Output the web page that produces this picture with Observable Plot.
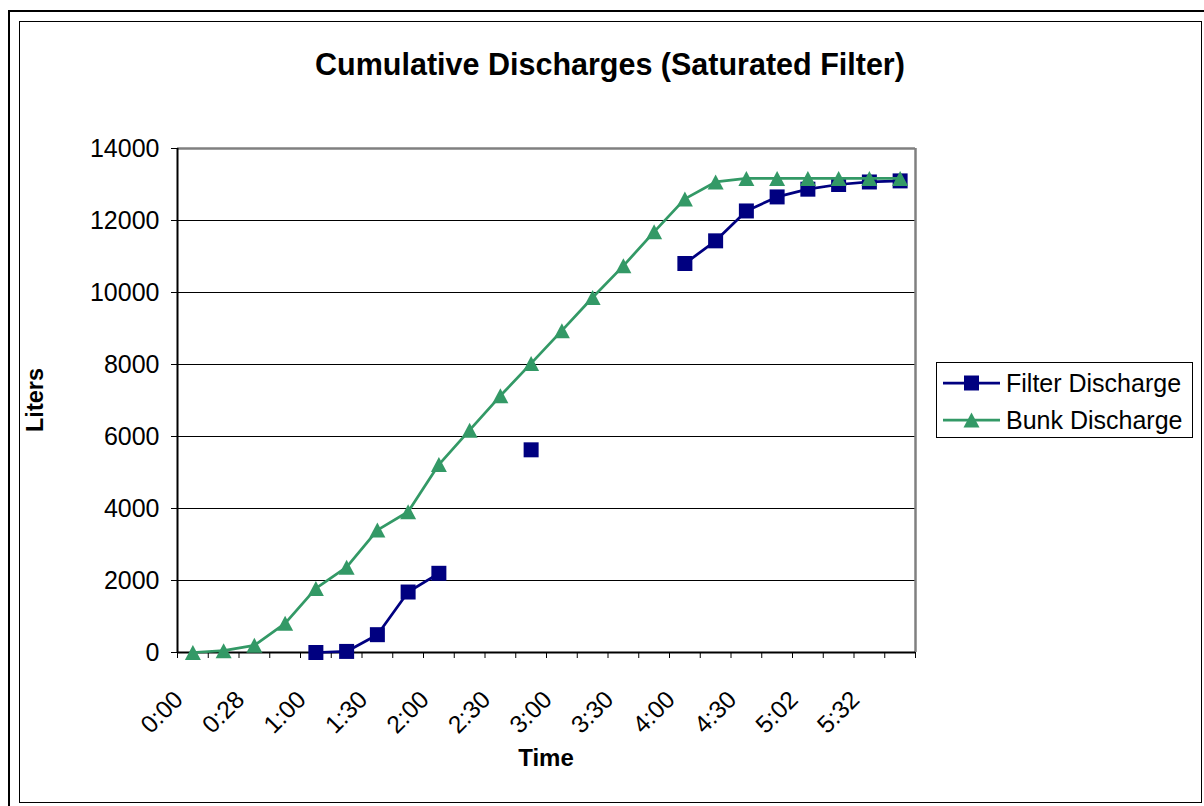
<!DOCTYPE html>
<html>
<head>
<meta charset="utf-8">
<script src="https://cdn.jsdelivr.net/npm/d3@7"></script>
<script src="https://cdn.jsdelivr.net/npm/@observablehq/plot@0.6"></script>
<style>
  html, body { margin: 0; padding: 0; background: #fff; width: 1204px; height: 806px; overflow: hidden;
    font-family: Arial, "Liberation Sans", sans-serif; color: #000; }
  #outer { position: absolute; left: 8px; top: 10px; width: 1220px; height: 820px; border: 2.5px solid #000; box-sizing: border-box; }
  #inner { position: absolute; left: 19px; top: 21px; width: 1183px; height: 782px; border: 1.5px solid #000; box-sizing: border-box; }
  #chart { position: absolute; left: 0; top: 0; }
  .title { position: absolute; left: 0; width: 1220px; top: 44px; text-align: center; font-weight: bold; font-size: 30.5px; line-height: 40px; }
  .ylabel { position: absolute; left: 35px; top: 400px; font-weight: bold; font-size: 23.5px; transform: translate(-50%, -50%) rotate(-90deg); white-space: nowrap; }
  .xlabel { position: absolute; left: 546px; top: 758px; font-weight: bold; font-size: 24px; transform: translate(-50%, -50%); white-space: nowrap; }
  #legend { position: absolute; left: 936px; top: 362px; width: 257px; height: 76px; border: 1.2px solid #000; box-sizing: border-box; background: #fff; }
  #legend .row { position: absolute; left: 0; height: 36px; display: flex; align-items: center; }
  #legend svg { margin-left: 6px; }
  #legend span { margin-left: 6px; font-size: 25px; line-height: 36px; white-space: nowrap; }
</style>
</head>
<body>
<div id="outer"></div>
<div id="inner"></div>
<div id="chart"></div>
<div class="title">Cumulative Discharges (Saturated Filter)</div>
<div class="ylabel">Liters</div>
<div class="xlabel">Time</div>
<div id="legend"></div>
<script>
// Elapsed time for each reading (every other one is labelled on the axis)
const times = ["0:00","0:14","0:28","0:44","1:00","1:15","1:30","1:45","2:00","2:15","2:30","2:45",
               "3:00","3:15","3:30","3:45","4:00","4:15","4:30","4:46","5:02","5:17","5:32","5:47"];

// Cumulative litres discharged through the filter (null = no reading)
const filterDischarge = [null, null, null, null, 0, 30, 495, 1680, 2200, null, null, 5630,
                         null, null, null, null, 10805, 11435, 12265, 12655, 12870, 13000, 13070, 13100];

// Cumulative litres discharged from the bunk
const bunkDischarge = [0, 50, 200, 810, 1780, 2370, 3400, 3910, 5220, 6175, 7130, 8030,
                       8940, 9860, 10740, 11685, 12600, 13070, 13170, 13170, 13170, 13170, 13170, 13170];

const yTicks = [0, 2000, 4000, 6000, 8000, 10000, 12000, 14000];
const labelledTimes = times.map((t, i) => i).filter(i => i % 2 === 0);

const series = [
  { name: "Filter Discharge", values: filterDischarge, color: "#000080", marker: "square" },
  { name: "Bunk Discharge", values: bunkDischarge, color: "#339966", marker: "triangle" }
];

// Marker shapes: a filled square and an upward triangle, sized from r
const symbols = {
  square: { draw(ctx, size) { const s = Math.sqrt(size / Math.PI); ctx.rect(-s, -s, 2 * s, 2 * s); } },
  triangle: { draw(ctx, size) {
    const k = Math.sqrt(size / Math.PI) / 8;
    ctx.moveTo(0, -7.5 * k); ctx.lineTo(8 * k, 7.5 * k); ctx.lineTo(-8 * k, 7.5 * k); ctx.closePath();
  } }
};
const markerR = { square: 7.5, triangle: 8 };

const rows = series.flatMap(s => times.map((t, i) => ({ series: s.name, i, t, v: s.values[i] })));

const lineMarks = series.flatMap(s => {
  const data = rows.filter(d => d.series === s.name);
  return [
    Plot.line(data, { x: "i", y: "v", stroke: s.color, strokeWidth: 2.75 }),
    Plot.dot(data.filter(d => d.v != null), { x: "i", y: "v", symbol: symbols[s.marker], r: markerR[s.marker], fill: s.color, stroke: "none" })
  ];
});

const chart = Plot.plot({
  width: 1204,
  height: 806,
  marginLeft: 177,
  marginRight: 289,
  marginTop: 148,
  marginBottom: 154,
  style: { fontFamily: "Arial, 'Liberation Sans', sans-serif", fontSize: "25px", color: "#000", background: "none", overflow: "visible" },
  x: { domain: [-0.5, times.length - 0.5], axis: null, label: null },
  y: { domain: [0, 14000], axis: null, label: null },
  marks: [
    Plot.gridY(yTicks.slice(1, -1), { stroke: "#000", strokeOpacity: 1, strokeWidth: 1 }),
    Plot.ruleY([14000], { stroke: "#808080", strokeWidth: 2.5 }),
    Plot.ruleX([times.length - 0.5], { stroke: "#808080", strokeWidth: 2.5 }),
    Plot.axisY({ ticks: yTicks, tickSize: 6, tickPadding: 12, tickFormat: d => String(d), label: null, fontSize: 25 }),
    Plot.axisX({ ticks: d3.range(times.length + 1).map(k => k - 0.5), tickSize: 6, tickFormat: () => "", label: null }),
    Plot.text(labelledTimes, {
      x: d => d, frameAnchor: "bottom", text: d => times[d], rotate: -45,
      textAnchor: "end", lineAnchor: "middle", dx: -14, dy: 43, fontSize: 24.5
    }),
    Plot.ruleX([-0.5], { stroke: "#000", strokeWidth: 2 }),
    Plot.ruleY([0], { stroke: "#000", strokeWidth: 2 }),
    ...lineMarks
  ]
});
document.getElementById("chart").appendChild(chart);

// Legend: one row per series with its line and marker swatch
const legend = d3.select("#legend");
series.forEach((s, k) => {
  const row = legend.append("div").attr("class", "row").style("top", (2 + k * 37) + "px");
  const svg = row.append("svg").attr("width", 57).attr("height", 20);
  svg.append("line").attr("x1", 0).attr("x2", 57).attr("y1", 10).attr("y2", 10)
    .attr("stroke", s.color).attr("stroke-width", 2.75);
  const path = d3.path();
  symbols[s.marker].draw(path, Math.PI * markerR[s.marker] ** 2);
  svg.append("path").attr("d", path.toString()).attr("transform", "translate(28.5,10)").attr("fill", s.color);
  row.append("span").text(s.name);
});
</script>
</body>
</html>
